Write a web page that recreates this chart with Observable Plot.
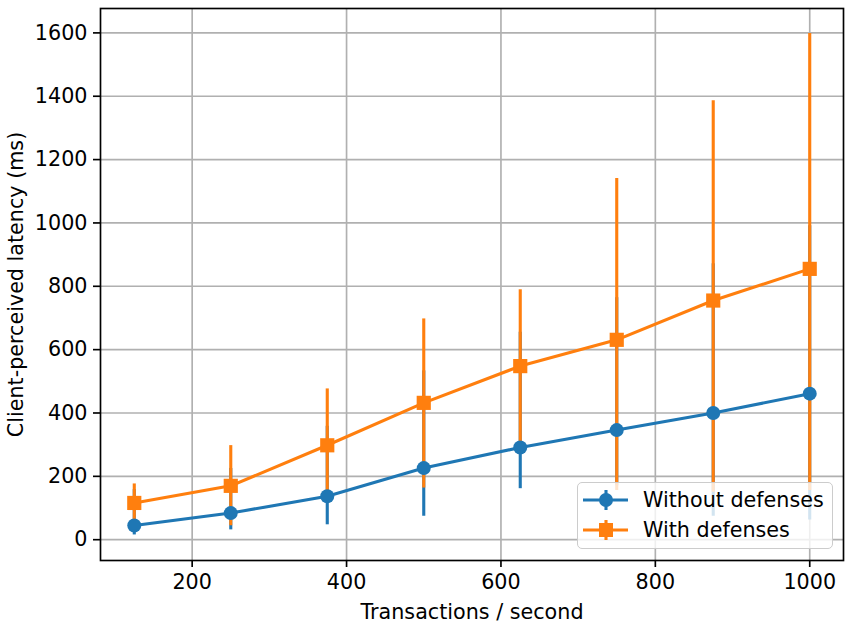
<!DOCTYPE html>
<html>
<head>
<meta charset="utf-8">
<script src="https://cdn.jsdelivr.net/npm/d3@7"></script>
<script src="https://cdn.jsdelivr.net/npm/@observablehq/plot@0.6"></script>
<style>
  body { margin: 0; background: #fff; }
  #wrap { position: relative; width: 848px; height: 623px; font-family: "DejaVu Sans", sans-serif; }
  #legend { position: absolute; left: 577px; top: 482px; width: 256px; height: 67px; box-sizing: border-box;
            background: rgba(255,255,255,0.8); border: 1.6px solid #cccccc; border-radius: 5px; }
  .entry { position: absolute; left: 0; height: 30px; width: 256px; }
  .entry svg { position: absolute; left: 0; top: 0; }
  .entry span { position: absolute; left: 65px; top: 1px; font-size: 20.7px; line-height: 28px; color: #000; white-space: nowrap; }
</style>
</head>
<body>
<div id="wrap"></div>
<script>
const xValues = [125, 250, 375, 500, 625, 750, 875, 1000];
const withoutMean = [45, 84, 137, 226, 291, 346, 400, 461];
const withoutLow  = [15, 31, 47, 74, 161, 170, 74, 62];
const withoutHigh = [158, 225, 358, 533, 655, 764, 871, 991];
const withMean = [116, 170, 298, 432, 548, 631, 755, 855];
const withLow  = [55, 44, 140, 163, 300, 155, 150, 155];
const withHigh = [176, 297, 476, 697, 789, 1140, 1386, 1598];
const seriesNames = ["Without defenses", "With defenses"];
const colors = ["#1f77b4", "#ff7f0e"];
const xTicks = [200, 400, 600, 800, 1000];
const yTicks = [0, 200, 400, 600, 800, 1000, 1200, 1400, 1600];

const without = xValues.map((x, i) => ({x, mean: withoutMean[i], low: withoutLow[i], high: withoutHigh[i]}));
const withD = xValues.map((x, i) => ({x, mean: withMean[i], low: withLow[i], high: withHigh[i]}));

const lw = 3.1;
const fmt = d => String(d);
const plot = Plot.plot({
  width: 848,
  height: 623,
  marginLeft: 100,
  marginRight: 5,
  marginTop: 8,
  marginBottom: 63,
  style: {fontFamily: "DejaVu Sans", fontSize: "20.7px", color: "#000", background: "transparent"},
  x: {domain: [81.25, 1043.75]},
  y: {domain: [-65.7, 1677]},
  marks: [
    Plot.gridX(xTicks, {stroke: "#b0b0b0", strokeOpacity: 1, strokeWidth: 1.66}),
    Plot.gridY(yTicks, {stroke: "#b0b0b0", strokeOpacity: 1, strokeWidth: 1.66}),
    Plot.ruleX(without, {x: "x", y1: "low", y2: "high", stroke: colors[0], strokeWidth: lw}),
    Plot.ruleX(withD, {x: "x", y1: "low", y2: "high", stroke: colors[1], strokeWidth: lw}),
    Plot.line(without, {x: "x", y: "mean", stroke: colors[0], strokeWidth: lw}),
    Plot.dot(without, {x: "x", y: "mean", r: 7, fill: colors[0], symbol: "circle"}),
    Plot.line(withD, {x: "x", y: "mean", stroke: colors[1], strokeWidth: lw}),
    Plot.dot(withD, {x: "x", y: "mean", r: 8, fill: colors[1], symbol: "square"}),
    Plot.frame({stroke: "#000", strokeWidth: 1.66}),
    Plot.axisX(xTicks, {tickSize: 7, tickPadding: 7, strokeWidth: 1.66, tickFormat: fmt, label: "Transactions / second", labelAnchor: "center", labelArrow: "none", labelOffset: 58}),
    Plot.axisY(yTicks, {tickSize: 7, tickPadding: 6, strokeWidth: 1.66, tickFormat: fmt, label: "Client-perceived latency (ms)", labelAnchor: "center", labelArrow: "none", labelOffset: 92})
  ]
});
const wrap = document.getElementById("wrap");
wrap.appendChild(plot);

const legend = document.createElement("div");
legend.id = "legend";
const markerSvg = [
  `<circle cx="28" cy="15" r="7" fill="${colors[0]}"/>`,
  `<rect x="21" y="8" width="14" height="14" fill="${colors[1]}"/>`
];
seriesNames.forEach((name, i) => {
  const e = document.createElement("div");
  e.className = "entry";
  e.style.top = (i === 0 ? 2 : 32) + "px";
  e.innerHTML = `<svg width="60" height="30">
    <line x1="28" x2="28" y1="5" y2="25" stroke="${colors[i]}" stroke-width="3.1"/>
    <line x1="5" x2="50" y1="15" y2="15" stroke="${colors[i]}" stroke-width="3.1"/>
    ${markerSvg[i]}
  </svg><span>${name}</span>`;
  legend.appendChild(e);
});
wrap.appendChild(legend);
</script>
</body>
</html>
